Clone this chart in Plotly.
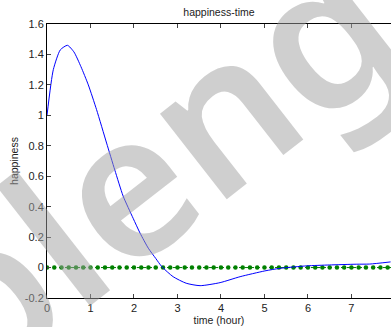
import plotly.graph_objects as go

# Blue series: happiness over time
time_h = [0.0, 0.145, 0.306, 0.47, 0.62, 0.78, 0.95, 1.14, 1.37, 1.56, 1.75, 1.98, 2.14,
          2.33, 2.5, 2.64, 2.9, 3.2, 3.52, 3.98, 4.44, 5.01, 5.36, 5.97, 6.49, 7.11, 7.42, 7.9]
happiness = [1.0, 1.30, 1.43, 1.46, 1.416, 1.32, 1.20, 1.037, 0.818, 0.64, 0.47, 0.324, 0.226,
             0.127, 0.06, 0.006, -0.06, -0.103, -0.119, -0.099, -0.06, -0.022, -0.005, 0.011,
             0.017, 0.022, 0.023, 0.037]

# Green series: zero reference line with dots
zero_t = [0.0, 0.167, 0.333, 0.5, 0.667, 0.833, 1.0, 1.167, 1.333, 1.5, 1.667, 1.833,
          2.0, 2.167, 2.333, 2.5, 2.667, 2.833, 3.0, 3.167, 3.333, 3.5, 3.667, 3.833,
          4.0, 4.167, 4.333, 4.5, 4.667, 4.833, 5.0, 5.167, 5.333, 5.5, 5.667, 5.833,
          6.0, 6.167, 6.333, 6.5, 6.667, 6.833, 7.0, 7.167, 7.333, 7.5, 7.667, 7.833, 8.0]
zero_v = [0.0] * len(zero_t)

x_ticks = [0, 1, 2, 3, 4, 5, 6, 7]
y_ticks = [-0.2, 0, 0.2, 0.4, 0.6, 0.8, 1, 1.2, 1.4, 1.6]
y_tick_text = ["-0.2", "0", "0.2", "0.4", "0.6", "0.8", "1", "1.2", "1.4", "1.6"]

FONT = "Liberation Sans, Arial, sans-serif"

fig = go.Figure()
fig.add_trace(go.Scatter(x=zero_t, y=zero_v, mode="lines+markers",
                         line=dict(color="#008000", width=1, dash="dot"),
                         marker=dict(color="#008000", size=4.5), cliponaxis=True,
                         showlegend=False))
fig.add_trace(go.Scatter(x=time_h, y=happiness, mode="lines",
                         line=dict(color="#0000ff", width=1, shape="spline", smoothing=0.6),
                         showlegend=False))

fig.add_annotation(text="blengi", xref="paper", yref="paper", x=0.36, y=0.56,
                   showarrow=False, textangle=-38,
                   font=dict(family="Noto Sans", weight=600, size=200,
                             color="rgba(160,160,160,0.5)"))

fig.update_layout(
    width=391, height=327,
    margin=dict(l=47, r=0, t=24, b=29),
    paper_bgcolor="white", plot_bgcolor="white",
    font=dict(family=FONT, size=11, color="#222222"),
    title=dict(text="happiness-time", x=0.56, xanchor="center", y=0.963, yanchor="middle",
               font=dict(family=FONT, size=10.5, color="#222222")),
    xaxis=dict(range=[0, 7.91], tickvals=x_ticks, ticks="inside", ticklen=4,
               showline=True, linecolor="black", linewidth=1, mirror="ticks",
               showgrid=False, zeroline=False,
               title=dict(text="time (hour)", standoff=2, font=dict(size=10.5)),
               tickfont=dict(size=11)),
    yaxis=dict(range=[-0.2, 1.6], tickvals=y_ticks, ticktext=y_tick_text, ticks="inside",
               ticklen=4, showline=True, linecolor="black", linewidth=1,
               showgrid=False, zeroline=False,
               title=dict(text="happiness", standoff=4, font=dict(size=10.5)),
               tickfont=dict(size=11)),
)

fig.write_html("out.html")
